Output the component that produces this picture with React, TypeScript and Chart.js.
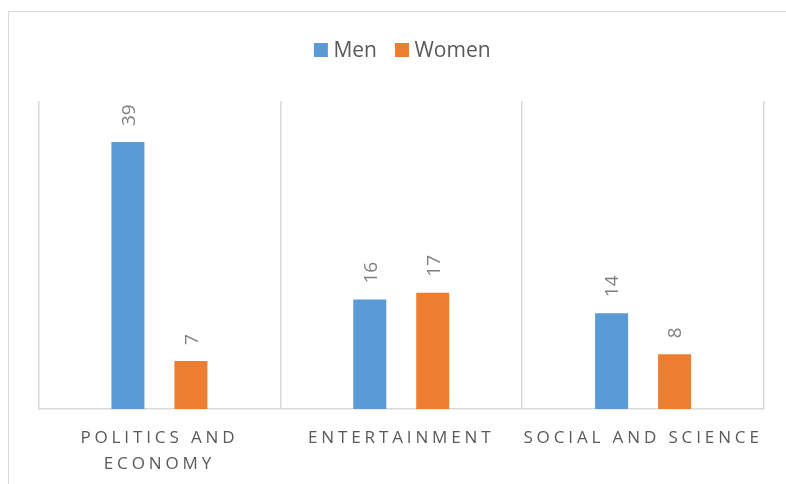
import React, { useEffect, useRef } from "react";
import { Chart, registerables } from "chart.js";

Chart.register(...registerables);

// ---- data ----
const categories: string[][] = [["POLITICS AND", "ECONOMY"], ["ENTERTAINMENT"], ["SOCIAL AND SCIENCE"]];
const seriesNames: string[] = ["Men", "Women"];
const menValues: number[] = [39, 16, 14];
const womenValues: number[] = [7, 17, 8];
const seriesColors: string[] = ["#5B9BD5", "#ED7D31"];
const yMin = 0;
const yMax = 45;

const FONT = '"Open Sans", "DejaVu Sans", sans-serif';

const overlayPlugin = {
  id: "overlay",
  afterDatasetsDraw(chart: any) {
    const ctx: CanvasRenderingContext2D = chart.ctx;
    const area = chart.chartArea;

    // rotated data labels
    chart.data.datasets.forEach((ds: any, di: number) => {
      const meta = chart.getDatasetMeta(di);
      meta.data.forEach((bar: any, i: number) => {
        const v = ds.data[i];
        ctx.save();
        ctx.translate(bar.x + 6.8, bar.y - 16);
        ctx.rotate(-Math.PI / 2);
        ctx.font = `19px ${FONT}`;
        ctx.fillStyle = "#7f7f7f";
        ctx.textAlign = "left";
        ctx.textBaseline = "alphabetic";
        ctx.fillText(String(v), 0, 0);
        ctx.restore();
      });
    });

    // category labels (letter-spaced, slightly widened)
    const xs = chart.scales.x;
    categories.forEach((lines, i) => {
      const cx = xs.getPixelForValue(i);
      lines.forEach((line, li) => {
        ctx.save();
        ctx.translate(cx, area.bottom + 34 + li * 26);
        ctx.scale(1.1, 1);
        ctx.font = `15.5px ${FONT}`;
        (ctx as any).letterSpacing = "3.5px";
        ctx.fillStyle = "#595959";
        ctx.textAlign = "center";
        ctx.textBaseline = "alphabetic";
        ctx.fillText(line, 0, 0);
        ctx.restore();
      });
    });

    // legend
    ctx.save();
    ctx.font = `21px ${FONT}`;
    ctx.textAlign = "left";
    ctx.textBaseline = "alphabetic";
    const box = 14;
    const gap = 5.5;
    const itemGap = 18;
    const names = chart.data.datasets.map((d: any) => d.label as string);
    const widths = names.map((n: string) => ctx.measureText(n).width);
    let total = 0;
    widths.forEach((w: number, i: number) => {
      total += box + gap + w + (i > 0 ? itemGap : 0);
    });
    let x = (area.left + area.right) / 2 - total / 2 + 1;
    names.forEach((n: string, i: number) => {
      ctx.fillStyle = chart.data.datasets[i].backgroundColor;
      ctx.fillRect(x, 31, box, box);
      ctx.fillStyle = "#595959";
      ctx.fillText(n, x + box + gap, 44.5);
      x += box + gap + widths[i] + itemGap;
    });
    ctx.restore();
  },
};

export default function App() {
  const canvasRef = useRef<HTMLCanvasElement | null>(null);

  useEffect(() => {
    if (!canvasRef.current) return;
    const chart = new Chart(canvasRef.current, {
      type: "bar",
      data: {
        labels: categories as any,
        datasets: [
          {
            label: seriesNames[0],
            data: menValues,
            backgroundColor: seriesColors[0],
            categoryPercentage: 0.521,
            barPercentage: 0.524,
          },
          {
            label: seriesNames[1],
            data: womenValues,
            backgroundColor: seriesColors[1],
            categoryPercentage: 0.521,
            barPercentage: 0.524,
          },
        ],
      },
      options: {
        responsive: true,
        maintainAspectRatio: false,
        animation: false,
        layout: { padding: { left: 29.5, right: 22, top: 89, bottom: 75 } },
        plugins: {
          legend: { display: false },
          tooltip: { enabled: false },
          title: { display: false },
        },
        scales: {
          x: {
            grid: { display: true, color: "#d9d9d9", lineWidth: 1.5, drawTicks: false, offset: true },
            border: { display: true, color: "#d9d9d9", width: 1.5 },
            ticks: { display: false },
          },
          y: { display: false, min: yMin, max: yMax },
        },
      },
      plugins: [overlayPlugin],
    });
    return () => chart.destroy();
  }, []);

  return (
    <div
      style={{
        position: "absolute",
        left: 8,
        top: 11,
        width: 778,
        height: 473,
        boxSizing: "border-box",
        borderTop: "1px solid #d9d9d9",
        borderLeft: "1px solid #d9d9d9",
        background: "#fff",
      }}
    >
      <div style={{ position: "relative", width: 777, height: 472 }}>
        <canvas ref={canvasRef} />
      </div>
    </div>
  );
}
